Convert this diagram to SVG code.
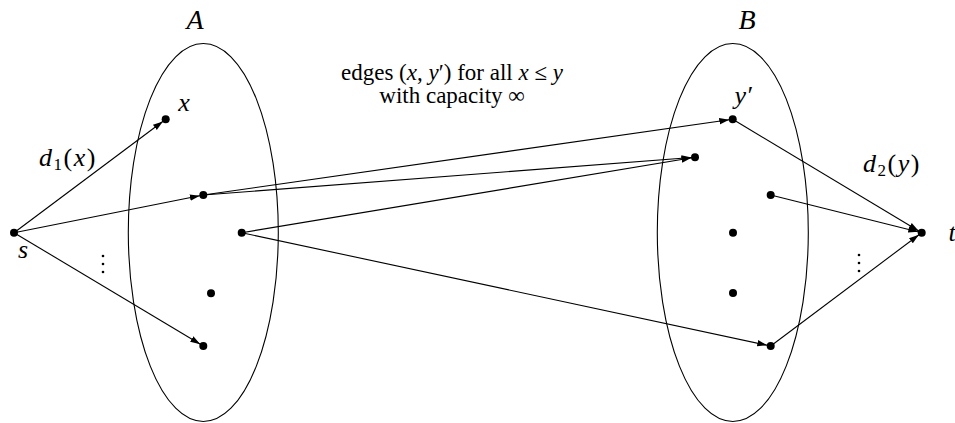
<svg xmlns="http://www.w3.org/2000/svg" width="955" height="423" viewBox="0 0 955 423">
<style>
.set{fill:none;stroke:#000;stroke-width:1.1}
.e{stroke:#000;stroke-width:1.1;fill:none;marker-end:url(#ah)}
.d{fill:#000}
text{font-family:'Liberation Serif','DejaVu Serif',serif;font-size:23px;fill:#000}
.i{font-style:italic}
.m{font-size:26px}
.big{font-size:28px}
</style>
<defs>
<marker id="ah" markerUnits="userSpaceOnUse" markerWidth="16" markerHeight="10" viewBox="0 0 16 10" refX="13.5" refY="5" orient="auto">
<path d="M0,1.8 L10,5 L0,8.2 Z" fill="#000"/>
</marker>
</defs>
<rect width="955" height="423" fill="#fff"/>
<g id="setA"><ellipse class="set" cx="203.3" cy="232.5" rx="75" ry="189"/><text class="i big" x="195" y="29" text-anchor="middle">A</text></g>
<g id="setB"><ellipse class="set" cx="732.8" cy="232.5" rx="75.5" ry="189"/><text class="i big" x="747" y="29" text-anchor="middle">B</text></g>
<g id="connectors">
<line class="e" x1="14" y1="232.7" x2="165.7" y2="119.3"/>
<line class="e" x1="14" y1="232.7" x2="203.3" y2="195"/>
<line class="e" x1="14" y1="232.7" x2="203.3" y2="346"/>
<line class="e" x1="203.3" y1="195" x2="732.7" y2="119.3"/>
<line class="e" x1="203.3" y1="195" x2="695" y2="157.3"/>
<line class="e" x1="241.7" y1="232.7" x2="695" y2="157.3"/>
<line class="e" x1="241.7" y1="232.7" x2="770.7" y2="346"/>
<line class="e" x1="732.7" y1="119.3" x2="921.7" y2="232.7"/>
<line class="e" x1="770.7" y1="195" x2="921.7" y2="232.7"/>
<line class="e" x1="770.7" y1="346" x2="921.7" y2="232.7"/>
</g>
<g id="s"><circle class="d" cx="14" cy="232.7" r="4"/><text class="i m" x="23" y="258" text-anchor="middle">s</text></g>
<g id="x"><circle class="d" cx="165.7" cy="119.3" r="4"/><text class="i m" x="184" y="111" text-anchor="middle">x</text></g>
<g id="a2"><circle class="d" cx="203.3" cy="195" r="4"/></g>
<g id="a3"><circle class="d" cx="241.7" cy="232.7" r="4"/></g>
<g id="a4"><circle class="d" cx="211" cy="293.3" r="4"/></g>
<g id="a5"><circle class="d" cx="203.3" cy="346" r="4"/></g>
<g id="yp"><circle class="d" cx="732.7" cy="119.3" r="4"/><text class="i m" x="743" y="104" text-anchor="middle">y′</text></g>
<g id="b2"><circle class="d" cx="695" cy="157.3" r="4"/></g>
<g id="b3"><circle class="d" cx="770.7" cy="195" r="4"/></g>
<g id="b4"><circle class="d" cx="733" cy="232.7" r="4"/></g>
<g id="b5"><circle class="d" cx="733" cy="293" r="4"/></g>
<g id="b6"><circle class="d" cx="770.7" cy="346" r="4"/></g>
<g id="t"><circle class="d" cx="921.7" cy="232.7" r="4"/><text class="i m" x="952" y="241" text-anchor="middle">t</text></g>
<g id="labels">
<text class="m" x="39" y="166" letter-spacing="1.5"><tspan class="i">d</tspan><tspan font-size="17" dy="4">1</tspan><tspan dy="-4">(</tspan><tspan class="i">x</tspan>)</text>
<text class="m" x="863" y="172" letter-spacing="1.5"><tspan class="i">d</tspan><tspan font-size="17" dy="4">2</tspan><tspan dy="-4">(</tspan><tspan class="i">y</tspan>)</text>
<text x="452" y="80" text-anchor="middle">edges (<tspan class="i">x</tspan>, <tspan class="i">y</tspan>′) for all <tspan class="i">x</tspan> ≤ <tspan class="i">y</tspan></text>
<text x="452" y="103" text-anchor="middle">with capacity ∞</text>
<g class="d"><circle cx="103" cy="256" r="1.3"/><circle cx="103" cy="264" r="1.3"/><circle cx="103" cy="272" r="1.3"/>
<circle cx="859" cy="255" r="1.3"/><circle cx="859" cy="263" r="1.3"/><circle cx="859" cy="271" r="1.3"/></g>
</g>
</svg>
